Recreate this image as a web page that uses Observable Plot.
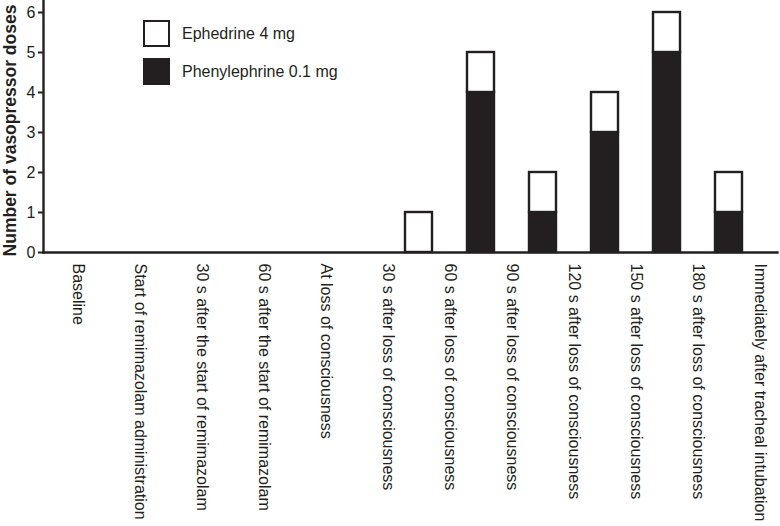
<!DOCTYPE html>
<html>
<head>
<meta charset="utf-8">
<script src="https://cdn.jsdelivr.net/npm/d3@7"></script>
<script src="https://cdn.jsdelivr.net/npm/@observablehq/plot@0.6"></script>
<style>
  html, body { margin: 0; padding: 0; background: #fff; }
  #wrap { position: relative; width: 780px; height: 526px; font-family: "Liberation Sans", Arial, Helvetica, sans-serif; color: #231f20; }
  #legend { position: absolute; left: 143px; top: 20px; font-size: 16px; }
  .item { position: absolute; left: 0; white-space: nowrap; display: flex; align-items: center; }
  .sw { width: 27px; height: 27px; box-sizing: border-box; border: 2.5px solid #231f20; margin-right: 12px; }
</style>
</head>
<body>
<div id="wrap">
  <div id="chart"></div>
  <div id="legend"></div>
</div>
<script>
const categories = [
  "Baseline",
  "Start of remimazolam administration",
  "30 s after the start of remimazolam",
  "60 s after the start of remimazolam",
  "At loss of consciousness",
  "30 s after loss of consciousness",
  "60 s after loss of consciousness",
  "90 s after loss of consciousness",
  "120 s after loss of consciousness",
  "150 s after loss of consciousness",
  "180 s after loss of consciousness",
  "Immediately after tracheal intubation"
];
const series = ["Phenylephrine 0.1 mg", "Ephedrine 4 mg"];
const phenylephrine = [0, 0, 0, 0, 0, 0, 0, 4, 1, 3, 5, 1];
const ephedrine     = [0, 0, 0, 0, 0, 0, 1, 1, 1, 1, 1, 1];
const yTicks = [0, 1, 2, 3, 4, 5, 6];
const yLabel = "Number of vasopressor doses";
const legendOrder = ["Ephedrine 4 mg", "Phenylephrine 0.1 mg"];
const colors = {"Ephedrine 4 mg": "#ffffff", "Phenylephrine 0.1 mg": "#231f20"};

const data = [];
categories.forEach((c, i) => {
  data.push({cat: c, drug: series[0], n: phenylephrine[i]});
  data.push({cat: c, drug: series[1], n: ephedrine[i]});
});
const bars = data.filter(d => d.n > 0);

const ink = "#231f20";
const chart = Plot.plot({
  width: 780,
  height: 526,
  marginLeft: 43,
  marginRight: 3,
  marginTop: 0,
  marginBottom: 274,
  style: {fontFamily: '"Liberation Sans", Arial, Helvetica, sans-serif', fontSize: "16px", color: ink, background: "white"},
  x: {domain: categories, range: [27, 747], paddingInner: 0.5714, paddingOuter: 0, align: 0.5, axis: null},
  y: {domain: [0, 6.3], axis: null},
  color: {domain: legendOrder, range: legendOrder.map(k => colors[k])},
  marks: [
    Plot.barY(bars, Plot.stackY({x: "cat", y: "n", z: "drug", order: series, fill: "drug", stroke: ink, strokeWidth: 2.4})),
    Plot.axisY({ticks: yTicks, tickFormat: d3.format("d"), tickSize: 5, tickPadding: 3, stroke: ink, strokeWidth: 2, fill: ink, fontSize: 16, label: null}),
    Plot.text([yLabel], {frameAnchor: "left", rotate: -90, dx: -33, dy: 4, textAnchor: "middle", fontWeight: "bold", fontSize: 17.5, fill: ink}),
    Plot.text(categories, {x: d => d, frameAnchor: "bottom", rotate: 90, textAnchor: "start", lineAnchor: "middle", dy: 11, dx: 31, fontSize: 16, fill: ink}),
    Plot.frame({anchor: "left", stroke: ink, strokeWidth: 2.4}),
    Plot.frame({anchor: "bottom", stroke: ink, strokeWidth: 2.4})
  ]
});
document.getElementById("chart").appendChild(chart);

const legend = document.getElementById("legend");
legendOrder.forEach((k, i) => {
  const item = document.createElement("div");
  item.className = "item";
  item.style.top = (i * 38) + "px";
  const sw = document.createElement("div");
  sw.className = "sw";
  sw.style.background = colors[k];
  item.appendChild(sw);
  const t = document.createElement("span");
  t.textContent = k;
  item.appendChild(t);
  legend.appendChild(item);
});
</script>
</body>
</html>
